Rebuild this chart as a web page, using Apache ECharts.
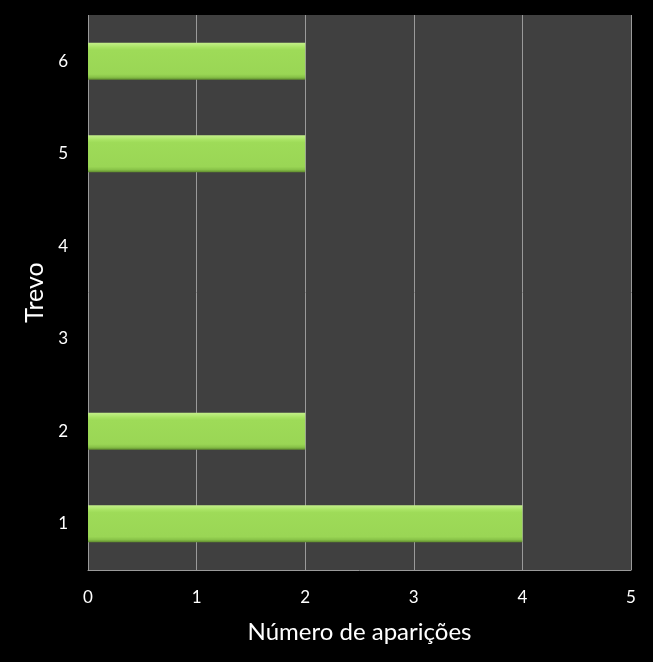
<!DOCTYPE html>
<html><head><meta charset="utf-8">
<script src="https://cdn.jsdelivr.net/npm/echarts@6/dist/echarts.min.js"></script>
<style>html,body{margin:0;padding:0;background:#000;}#c{width:653px;height:662px;}</style>
</head><body><div id="c"></div>
<script>
const categories = ['1','2','3','4','5','6'];
const values = [4, 2, 0, 0, 2, 2];
const xTicks = [0,1,2,3,4,5];
const xTitle = 'Número de aparições';
const yTitle = 'Trevo';

const chart = echarts.init(document.getElementById('c'));
const font = 'Lato, "Open Sans", sans-serif';
chart.setOption({
  backgroundColor: '#000000',
  animation: false,
  grid: {left: 88, right: 22, top: 15, bottom: 92, show: true, backgroundColor: '#404040', borderWidth: 0},
  xAxis: {
    type: 'value', min: xTicks[0], max: xTicks[xTicks.length-1], interval: 1,
    name: xTitle, nameLocation: 'middle', nameGap: 50,
    nameTextStyle: {color: '#ffffff', fontSize: 24, fontFamily: font},
    axisLine: {show: true, lineStyle: {color: '#9a9a9a', width: 1}},
    axisTick: {show: false},
    axisLabel: {color: '#ffffff', fontSize: 17, fontFamily: font, margin: 19},
    splitLine: {show: true, lineStyle: {color: '#9a9a9a', width: 1}}
  },
  yAxis: {
    type: 'category', data: categories,
    name: yTitle, nameLocation: 'middle', nameGap: 40, nameRotate: 90,
    nameTextStyle: {color: '#ffffff', fontSize: 25, fontFamily: font},
    axisLine: {show: false}, axisTick: {show: false},
    axisLabel: {color: '#ffffff', fontSize: 17, fontFamily: font, margin: 20}
  },
  series: [{
    type: 'bar', data: values, barWidth: '40%',
    itemStyle: {
      color: new echarts.graphic.LinearGradient(0,0,0,1,[
        {offset:0, color:'#c4f08a'},
        {offset:0.12, color:'#a9e464'},
        {offset:0.2, color:'#9edb58'},
        {offset:0.85, color:'#9ad655'},
        {offset:0.93, color:'#88c248'},
        {offset:1, color:'#5f8a2e'}
      ]),
      borderWidth: 0
    }
  }]
});
</script></body></html>
